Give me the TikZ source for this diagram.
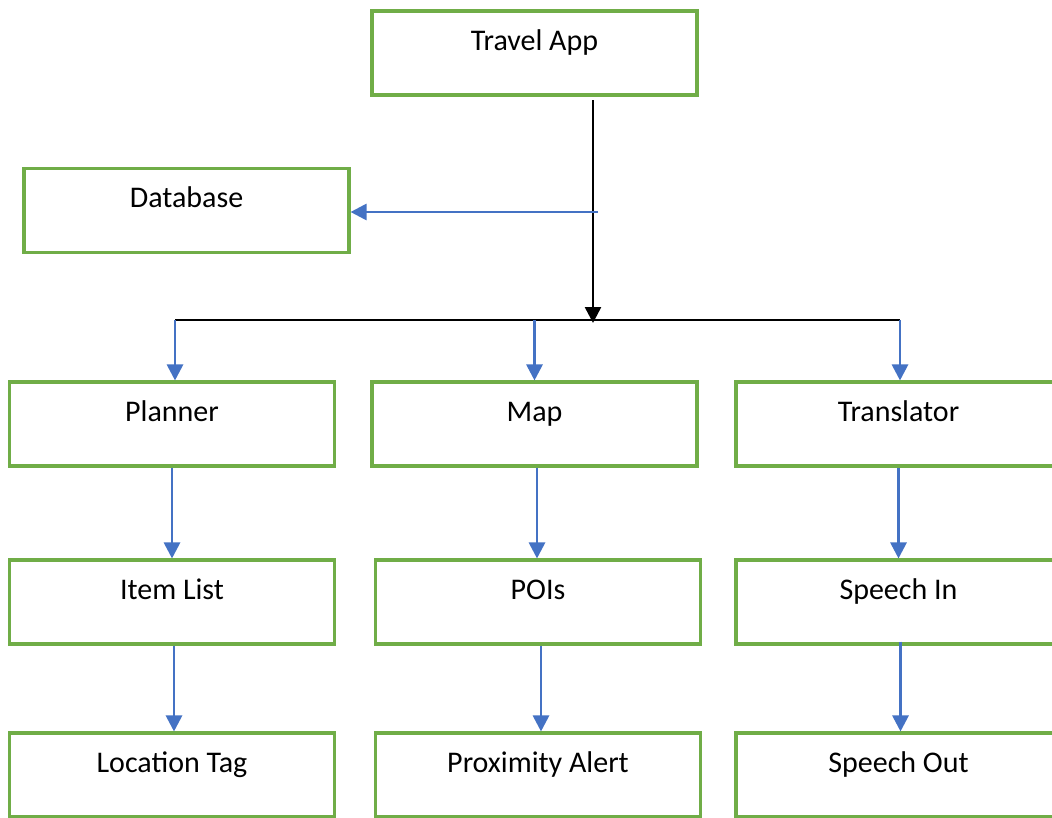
\documentclass[tikz,border=0pt]{standalone}
\usepackage{fontspec}
\setmainfont{Carlito}
\usetikzlibrary{arrows.meta,calc}
\definecolor{boxgreen}{HTML}{70AD47}
\definecolor{arrblue}{HTML}{4472C4}
\begin{document}
\begin{tikzpicture}[x=0.75pt,y=-0.75pt,
  box/.style={draw=boxgreen,line width=2.3pt,minimum width=243.75pt,minimum height=63pt,inner sep=0pt},
  lbl/.style={anchor=base,inner sep=0pt,font=\fontsize{22.5}{27}\selectfont},
  blue/.style={draw=arrblue,line width=2.1pt,-{Triangle[length=12pt,width=12pt]}},
  blk/.style={draw=black,line width=1.9pt},
  blkarr/.style={blk,-{Triangle[length=12pt,width=12pt]}}]
\useasboundingbox (0,0) rectangle (1052,817);
\fill[white] (0,0) rectangle (1052,817);
\clip (0,0) rectangle (1052,817);
% boxes
\node[box] (app) at (534.5,53) {};
\node[box] (db) at (186.5,210.5) {};
\node[box] (plan) at (172,424) {};
\node[box] (map) at (534.5,424) {};
\node[box] (trans) at (898.5,424) {};
\node[box] (item) at (172,602) {};
\node[box] (pois) at (538,602) {};
\node[box] (sin) at (898.5,602) {};
\node[box] (loc) at (172,775) {};
\node[box] (prox) at (538,775) {};
\node[box] (sout) at (898.5,775) {};
% labels
\node[lbl] (tapp) at ($(app.north)+(0,41.5)$) {Travel App};
\node[lbl] (tdb) at ($(db.north)+(0,41)$) {Database};
\node[lbl] (tplan) at ($(plan.north)+(0,41)$) {Planner};
\node[lbl] (tmap) at ($(map.north)+(0,41)$) {Map};
\node[lbl] (ttrans) at ($(trans.north)+(0,41)$) {Translator};
\node[lbl] (titem) at ($(item.north)+(0,41)$) {Item List};
\node[lbl] (tpois) at ($(pois.north)+(0,41)$) {POIs};
\node[lbl] (tsin) at ($(sin.north)+(0,41)$) {Speech In};
\node[lbl] (tloc) at ($(loc.north)+(0,41)$) {Location Tag};
\node[lbl] (tprox) at ($(prox.north)+(0,41)$) {Proximity Alert};
\node[lbl] (tsout) at ($(sout.north)+(0,41)$) {Speech Out};
% connector coordinates
\coordinate (top) at (593,100);
\coordinate (junc) at (593,320);
\coordinate (dbsrc) at (598,212);
\coordinate (hl) at (175,320);
\coordinate (hr) at (900,320);
% main trunk
\draw[blkarr] (top) -- ($(junc)+(0,3)$);
\draw[blk] (hl) -- (hr);
\draw[blue] (dbsrc) -- (db.east |- dbsrc);
% branches
\draw[blue] (hl) -- (hl |- plan.north);
\draw[blue] (junc -| map.north) -- (map.north);
\draw[blue] (hr) -- (hr |- trans.north);
% columns
\draw[blue] (plan.south) -- (item.north);
\draw[blue] ($(map.south)+(2.5,0)$) -- ($(pois.north)+(-1,0)$);
\draw[blue] (trans.south) -- (sin.north);
\draw[blue] ($(item.south)+(2,0)$) -- ($(loc.north)+(2,0)$);
\draw[blue] ($(pois.south)+(3,0)$) -- ($(prox.north)+(3,0)$);
\draw[blue] ($(sin.south)+(2,-4)$) -- ($(sout.north)+(2,0)$);
\end{tikzpicture}
\end{document}
